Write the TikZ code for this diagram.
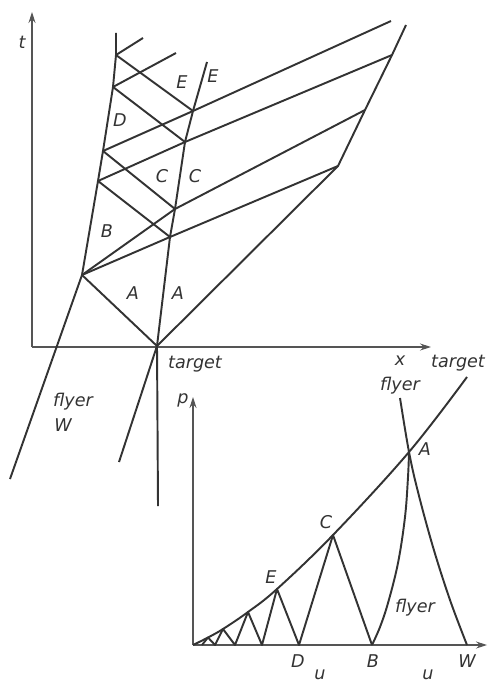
\documentclass[tikz,border=0pt]{standalone}
\usepackage{fontspec}
\setmainfont{DejaVu Sans}
\usetikzlibrary{arrows.meta}
\definecolor{Ink}{HTML}{333333}
\definecolor{AxisGray}{HTML}{555555}

\begin{document}
\begin{tikzpicture}[
  x=0.2mm,y=-0.2mm,
  wave/.style={draw=Ink,line width=1.1pt,line join=round},
  axis/.style={draw=AxisGray,line width=0.6pt,-{Stealth[length=2.2mm,width=1.4mm]}},
  lbl/.style={font=\itshape\fontsize{10}{12}\selectfont,text=Ink,inner sep=0pt}
]
\useasboundingbox (0,0) rectangle (487,684);

% x-t diagram
\coordinate (xt0) at (32,347);
\coordinate (tmax) at (32,12);
\coordinate (xmax) at (431,347);
\draw[axis] (xt0) -- (tmax);
\draw[axis] (xt0) -- (xmax);

\coordinate (O) at (157,346);
\coordinate (K0) at (82,275);
\coordinate (F1) at (98,181);
\coordinate (F2) at (103,151);
\coordinate (F3) at (113,87);
\coordinate (F4) at (116,55);
\coordinate (Ftop) at (116,33);
\coordinate (Fbot) at (10,479);
\coordinate (Front) at (119,462);
\coordinate (Tbot) at (158,506);
\coordinate (I1) at (170,237);
\coordinate (I2) at (175,209);
\coordinate (I3) at (185,142);
\coordinate (I4) at (193,111);
\coordinate (Itop) at (207,62);
\coordinate (S1) at (338,166);
\coordinate (S2) at (365,110);
\coordinate (S3) at (392,55);
\coordinate (Stop) at (406,25);
\coordinate (R3) at (176,53);
\coordinate (R4) at (143,38);
\coordinate (R5) at (391,21);

\draw[wave] (Fbot) -- (K0) -- (F1) -- (F2) -- (F3) -- (F4) -- (Ftop);
\draw[wave] (Front) -- (O);
\draw[wave] (Tbot) -- (O) -- (I1) -- (I2) -- (I3) -- (I4) -- (Itop);
\draw[wave] (K0) -- (O) -- (S1) -- (S2) -- (S3) -- (Stop);
\draw[wave] (K0) -- (I1) -- (S1);
\draw[wave] (K0) -- (I2) -- (S2);
\draw[wave] (I1) -- (F1) -- (I3) -- (S3);
\draw[wave] (I2) -- (F2) -- (I4) -- (R5);
\draw[wave] (I3) -- (F3) -- (R3);
\draw[wave] (I4) -- (F4) -- (R4);

\node[lbl] (tlab) at (22,42) {t};
\node[lbl] (xlab) at (400,361) {x};
\node[lbl] (tgt1) at (195,364) {target};
\node[lbl] (fly1) at (73,402) {flyer};
\node[lbl] (wlab) at (63,425) {W};
\node[lbl] (a1) at (133,293) {A};
\node[lbl] (a2) at (178,293) {A};
\node[lbl] (b1) at (107,231) {B};
\node[lbl] (c1) at (162,176) {C};
\node[lbl] (c2) at (195,176) {C};
\node[lbl] (d1) at (120,120) {D};
\node[lbl] (e1) at (182,82) {E};
\node[lbl] (e2) at (213,76) {E};

% p-u diagram
\coordinate (pu0) at (193,645);
\coordinate (pmax) at (193,397);
\coordinate (umax) at (487,645);
\draw[axis] (pu0) -- (pmax);
\draw[axis] (pu0) -- (umax);

\coordinate (A) at (409,452);
\coordinate (B) at (372,645);
\coordinate (C) at (333,535);
\coordinate (D) at (299,645);
\coordinate (E) at (277,589);
\coordinate (D2) at (262,645);
\coordinate (P1) at (248,612);
\coordinate (D3) at (235,645);
\coordinate (P2) at (223,629);
\coordinate (D4) at (215,645);
\coordinate (P3) at (208,637.5);
\coordinate (D5) at (202,645);
\coordinate (W) at (467,645);
\coordinate (Ttop) at (467,377);
\coordinate (Ftp) at (400,398);

\draw[wave] plot[smooth,tension=0.6] coordinates {(pu0) (P3) (P2) (P1) (E) (C) (A) (Ttop)};
\draw[wave] plot[smooth,tension=0.6] coordinates {(W) (450,600) (433,547) (418,492) (A) (Ftp)};
\draw[wave] plot[smooth,tension=0.6] coordinates {(A) (408,477) (405,517) (398,563) (388,603) (380,627) (B)};
\draw[wave] (B) -- (C) -- (D) -- (E) -- (D2) -- (P1) -- (D3) -- (P2) -- (D4) -- (P3) -- (D5);

\node[lbl] (plab) at (183,400) {p};
\node[lbl] (tgt2) at (458,363) {target};
\node[lbl] (fly2) at (400,386) {flyer};
\node[lbl] (alab) at (425,449) {A};
\node[lbl] (clab) at (326,522) {C};
\node[lbl] (elab) at (271,577) {E};
\node[lbl] (fly3) at (415,608) {flyer};
\node[lbl] (dlab) at (298,661) {D};
\node[lbl] (blab) at (373,661) {B};
\node[lbl] (wlab2) at (467,661) {W};
\node[lbl,anchor=south] (u1) at (320,680) {u};
\node[lbl,anchor=south] (u2) at (428,680) {u};
\end{tikzpicture}
\end{document}
